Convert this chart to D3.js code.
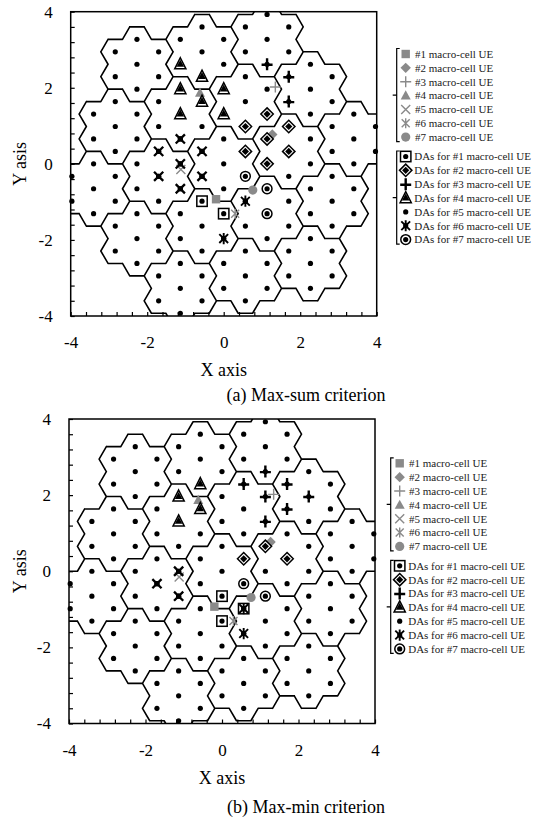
<!DOCTYPE html>
<html>
<head>
<meta charset="utf-8">
<script src="https://cdn.jsdelivr.net/npm/d3@7"></script>
<style>
body { margin: 0; background: #fff; }
svg { display: block; font-family: "Liberation Serif", "Times New Roman", serif; }
</style>
</head>
<body>
<script>
'use strict';

// Layout: 19 macro cells (centre spacing sqrt(3)), 7 DAs per cell
var cellRadius = 1;
var daSpacing = Math.sqrt(3 / 7) * cellRadius;

// cell centres and DA offsets, as [column, half-row] on the DA lattice
var cellCentres = [[0, 0], [3, 1], [1, 5], [-2, 4], [-3, -1], [-1, -5], [2, -4],
	[6, 2], [4, 6], [2, 10], [-1, 9], [-4, 8], [-5, 3], [-6, -2], [-4, -6], [-2, -10], [1, -9], [4, -8], [5, -3]];
var cellOffsets = [[0, 0], [0, 2], [1, 1], [1, -1], [0, -2], [-1, -1], [-1, 1]];

// Macro-cell UE positions
var ueLabels = ['#1 macro-cell UE', '#2 macro-cell UE', '#3 macro-cell UE', '#4 macro-cell UE',
	'#5 macro-cell UE', '#6 macro-cell UE', '#7 macro-cell UE'];
var ueX = [-0.2, 1.27, 1.35, -0.62, -1.12, 0.3, 0.76];
var ueY = [-0.93, 0.77, 2.02, 1.87, -0.15, -1.31, -0.69];

var daLabels = ['DAs for #1 macro-cell UE', 'DAs for #2 macro-cell UE', 'DAs for #3 macro-cell UE',
	'DAs for #4 macro-cell UE', 'DAs for #5 macro-cell UE', 'DAs for #6 macro-cell UE', 'DAs for #7 macro-cell UE'];

// DAs chosen for each UE, [column, half-row]
var maxSumDAs = [
	[[-1, -3], [0, -4]],
	[[2, 4], [1, 3], [3, 3], [2, 2], [1, 1], [3, 1], [2, 0]],
	[[2, 8], [3, 7], [3, 5]],
	[[-2, 8], [-1, 7], [-2, 6], [-1, 5], [0, 6], [-2, 4], [0, 4]],
	[[-2, 2], [-3, 1], [-1, 1], [-2, 0], [-3, -1], [-1, -1], [-2, -2]],
	[[1, -3], [0, -6]],
	[[1, -1], [2, -2], [2, -4]]
];
var maxMinDAs = [
	[[0, -2], [0, -4], [1, -3]],
	[[2, 2], [1, 1], [3, 1]],
	[[2, 8], [1, 7], [3, 7], [2, 6], [4, 6], [3, 5], [2, 4]],
	[[-1, 7], [-2, 6], [-1, 5], [-2, 4]],
	[[-2, 0], [-3, -1], [-2, -2]],
	[[1, -3], [1, -5]],
	[[1, -1], [2, -2]]
];

var tickLabels = [-4, -2, 0, 2, 4];
var minorStep = 0.4;

var ueMarkers = ['ueSquare', 'ueDiamond', 'uePlus', 'ueTriangle', 'ueCross', 'ueStar', 'ueCircle'];
var daMarkers = ['daSquare', 'daDiamond', 'daPlus', 'daTriangle', 'daCross', 'daStar', 'daRing'];
var daLegendMarkers = ['daSquare', 'daDiamond', 'daPlus', 'daTriangle', 'dot', 'daStar', 'daRing'];

var svg = d3.select('body').append('svg')
	.attr('width', 549)
	.attr('height', 820);

function latX(p) { return p[0] * daSpacing * Math.sqrt(3) / 2; }
function latY(p) { return p[1] * daSpacing / 2; }

var dotR = 2.6;

function drawMarker(g, type, cx, cy) {
	var gray = '#8a8a8a';
	var s = g.append('g').attr('transform', 'translate(' + cx + ',' + cy + ')');
	var dot = function() { s.append('circle').attr('r', dotR).attr('fill', '#000'); };
	switch (type) {
		case 'ueSquare':
			s.append('rect').attr('x', -4.2).attr('y', -4.2).attr('width', 8.4).attr('height', 8.4).attr('fill', gray);
			break;
		case 'ueDiamond':
			s.append('path').attr('d', 'M0,-5.2L5.2,0L0,5.2L-5.2,0Z').attr('fill', gray);
			break;
		case 'uePlus':
			s.append('path').attr('d', 'M-5.5,0H5.5M0,-5.5V5.5').attr('stroke', gray).attr('stroke-width', 1.4);
			break;
		case 'ueTriangle':
			s.append('path').attr('d', 'M0,-5.2L5,4L-5,4Z').attr('fill', gray);
			break;
		case 'ueCross':
			s.append('path').attr('d', 'M-4.5,-4.5L4.5,4.5M-4.5,4.5L4.5,-4.5').attr('stroke', gray).attr('stroke-width', 1.4);
			break;
		case 'ueStar':
			s.append('path').attr('d', 'M-4,-4L4,4M-4,4L4,-4M0,-5V5').attr('stroke', gray).attr('stroke-width', 1.4);
			break;
		case 'ueCircle':
			s.append('circle').attr('r', 4.6).attr('fill', gray);
			break;
		case 'daSquare':
			s.append('rect').attr('x', -5.2).attr('y', -5.2).attr('width', 10.4).attr('height', 10.4)
				.attr('fill', '#fff').attr('stroke', '#000').attr('stroke-width', 1.5);
			dot();
			break;
		case 'daDiamond':
			s.append('path').attr('d', 'M0,-6.2L6.2,0L0,6.2L-6.2,0Z')
				.attr('fill', '#fff').attr('stroke', '#000').attr('stroke-width', 1.5);
			s.append('path').attr('d', 'M0,-3.6L3.6,0L0,3.6L-3.6,0Z').attr('fill', '#000');
			break;
		case 'daPlus':
			s.append('path').attr('d', 'M-5.5,0.5H5.5M0,-6V6').attr('stroke', '#000').attr('stroke-width', 2.4);
			break;
		case 'daTriangle':
			s.append('path').attr('d', 'M0,-6.5L5.6,4.6L-5.6,4.6Z')
				.attr('fill', '#fff').attr('stroke', '#000').attr('stroke-width', 1.5);
			s.append('path').attr('d', 'M0,-4.6L3.8,2.4L-3.8,2.4Z').attr('fill', '#000');
			break;
		case 'daCross':
			s.append('path').attr('d', 'M-4.6,-4.6L4.6,4.6M-4.6,4.6L4.6,-4.6').attr('stroke', '#000').attr('stroke-width', 2.3);
			dot();
			break;
		case 'daStar':
			s.append('path').attr('d', 'M-4.4,-4.4L4.4,4.4M-4.4,4.4L4.4,-4.4M0,-5.6V5.6').attr('stroke', '#000').attr('stroke-width', 1.9);
			dot();
			break;
		case 'daRing':
			s.append('circle').attr('r', 4.9)
				.attr('fill', '#fff').attr('stroke', '#000').attr('stroke-width', 1.5);
			dot();
			break;
		case 'dot':
			dot();
			break;
	}
}

function drawPanel(p) {
	var x = d3.scaleLinear().domain([-4, 4]).range([p.left, p.right]);
	var y = d3.scaleLinear().domain([-4, 4]).range([p.bottom, p.top]);
	var g = svg.append('g');

	var clipId = 'clip-' + p.id;
	svg.append('clipPath').attr('id', clipId)
		.append('rect')
		.attr('x', p.left).attr('y', p.top)
		.attr('width', p.right - p.left).attr('height', p.bottom - p.top);

	// owner lookup for every DA
	var owner = {};
	var das = [];
	cellCentres.forEach(function(c, k) {
		cellOffsets.forEach(function(o) {
			var q = [c[0] + o[0], c[1] + o[1]];
			owner[q[0] + ',' + q[1]] = k;
			das.push(q);
		});
	});

	// cell outlines: edges of each DA hexagon that face another cell
	var r = daSpacing / Math.sqrt(3);
	var nbrs = [[1, 1], [0, 2], [-1, 1], [-1, -1], [0, -2], [1, -1]];
	var path = d3.path();
	das.forEach(function(q) {
		var k = owner[q[0] + ',' + q[1]];
		var cx = latX(q), cy = latY(q);
		nbrs.forEach(function(n, j) {
			var nb = owner[(q[0] + n[0]) + ',' + (q[1] + n[1])];
			if (nb === k || (nb !== undefined && nb < k)) return;
			var a0 = j * Math.PI / 3, a1 = (j + 1) * Math.PI / 3;
			path.moveTo(x(cx + r * Math.cos(a0)), y(cy + r * Math.sin(a0)));
			path.lineTo(x(cx + r * Math.cos(a1)), y(cy + r * Math.sin(a1)));
		});
	});
	g.append('path')
		.attr('d', path.toString())
		.attr('clip-path', 'url(#' + clipId + ')')
		.attr('fill', 'none')
		.attr('stroke', '#000')
		.attr('stroke-width', 1.6)
		.attr('stroke-linecap', 'round');

	// all DAs
	g.append('g').selectAll('circle')
		.data(das)
		.enter().append('circle')
			.attr('cx', function(d) { return x(latX(d)); })
			.attr('cy', function(d) { return y(latY(d)); })
			.attr('r', dotR)
			.attr('fill', '#000');

	// UEs
	var ueG = g.append('g');
	ueX.forEach(function(v, i) {
		drawMarker(ueG, ueMarkers[i], x(v), y(ueY[i]));
	});

	// selected DAs
	var daG = g.append('g');
	p.sel.forEach(function(list, i) {
		list.forEach(function(q) {
			drawMarker(daG, daMarkers[i], x(latX(q)), y(latY(q)));
		});
	});

	// Axes
	var ticks = d3.range(0, 21).map(function(i) { return -4 + i * minorStep; });
	var fmt = function(v) {
		var rv = Math.round(v);
		return (Math.abs(v - rv) < 1e-6 && tickLabels.indexOf(rv) >= 0) ? String(rv) : '';
	};
	var ax = g.append('g')
		.attr('transform', 'translate(0,' + p.bottom + ')')
		.call(d3.axisBottom(x).tickValues(ticks).tickSize(-4).tickPadding(20).tickFormat(fmt));
	var ay = g.append('g')
		.attr('transform', 'translate(' + p.left + ',0)')
		.call(d3.axisLeft(y).tickValues(ticks).tickSize(-4).tickPadding(18).tickFormat(fmt));
	[ax, ay].forEach(function(a) {
		a.select('.domain').remove();
		a.attr('font-family', null).attr('font-size', 17);
		a.selectAll('line').attr('stroke', '#000').attr('stroke-width', 1.2);
		a.selectAll('text').attr('fill', '#000');
	});

	g.append('rect')
		.attr('x', p.left).attr('y', p.top)
		.attr('width', p.right - p.left).attr('height', p.bottom - p.top)
		.attr('fill', 'none').attr('stroke', '#000').attr('stroke-width', 1.5);

	g.append('text')
		.attr('x', (p.left + p.right) / 2)
		.attr('y', p.bottom + 60)
		.attr('text-anchor', 'middle')
		.attr('font-size', 18)
		.text('X axis');
	g.append('text')
		.attr('transform', 'translate(26,' + ((p.top + p.bottom) / 2) + ') rotate(-90)')
		.attr('text-anchor', 'middle')
		.attr('font-size', 18)
		.text('Y asis');
	g.append('text')
		.attr('x', 306)
		.attr('y', p.captionY)
		.attr('text-anchor', 'middle')
		.attr('font-size', 18)
		.text(p.caption);

	// Legend
	var lg = g.append('g').attr('font-size', 11).attr('fill', '#222');
	var groups = [
		{labels: ueLabels, markers: ueMarkers, y0: p.legendY, textX: 18.3},
		{labels: daLabels, markers: daLegendMarkers, y0: p.legendY + 102.5, textX: 17.5}
	];
	groups.forEach(function(grp) {
		var step = 13.85;
		var y1 = grp.y0 - 5.5, y2 = grp.y0 + 6 * step + 4.5;
		lg.append('path')
			.attr('d', 'M' + (p.legendX + 3) + ',' + y1 + 'H' + p.legendX + 'V' + y2 + 'H' + (p.legendX + 3) +
				'M' + p.legendX + ',' + ((y1 + y2) / 2) + 'H' + (p.legendX - 4))
			.attr('fill', 'none').attr('stroke', '#000').attr('stroke-width', 1.2);
		grp.labels.forEach(function(t, i) {
			var yy = grp.y0 + i * step;
			drawMarker(lg, grp.markers[i], p.legendX + 9, yy);
			lg.append('text')
				.attr('x', p.legendX + grp.textX)
				.attr('y', yy)
				.attr('dy', '0.35em')
				.text(t);
		});
	});
}

drawPanel({id: 'a', left: 70.7, right: 376.7, top: 11.7, bottom: 316,
	legendX: 396.7, legendY: 54, captionY: 401, caption: '(a) Max-sum criterion', sel: maxSumDAs});
drawPanel({id: 'b', left: 69, right: 375, top: 419, bottom: 723.5,
	legendX: 390.7, legendY: 463.3, captionY: 813, caption: '(b) Max-min criterion', sel: maxMinDAs});
</script>
</body>
</html>
